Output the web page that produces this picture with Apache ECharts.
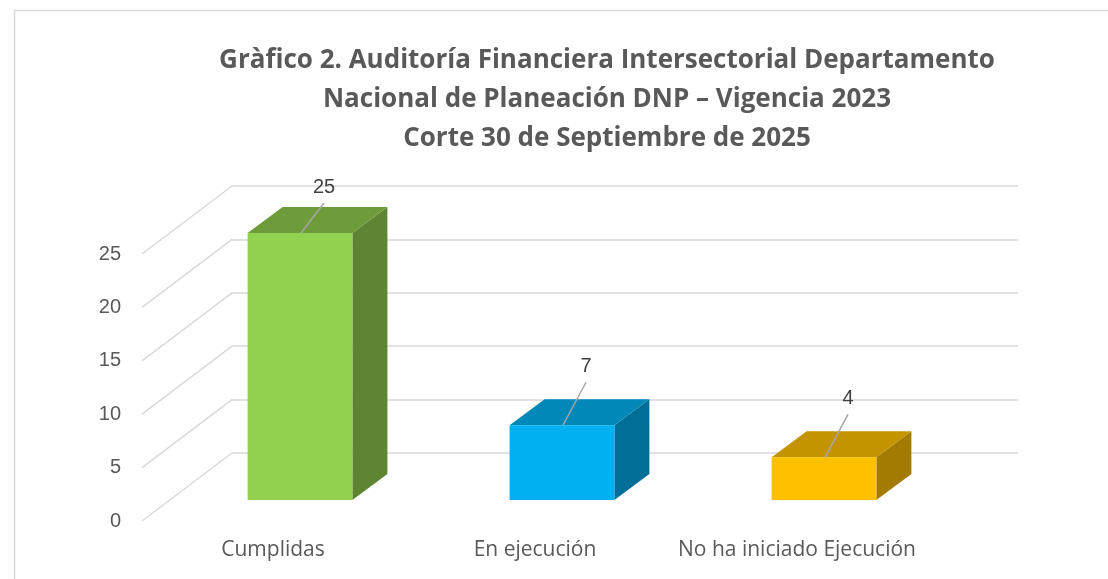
<!DOCTYPE html>
<html>
<head>
<meta charset="utf-8">
<script src="https://cdn.jsdelivr.net/npm/echarts@6/dist/echarts.min.js"></script>
<style>
  html, body { margin: 0; padding: 0; background: #fff; }
  #main { width: 1108px; height: 579px; }
</style>
</head>
<body>
<div id="main"></div>
<script>
// datos del gráfico
var categorias = ['Cumplidas', 'En ejecución', 'No ha iniciado Ejecución'];
var valores = [25, 7, 4];
var ticksY = [0, 5, 10, 15, 20, 25];

// colores: frente, tapa, lado
var coloresFrente = ['#92D050', '#00B0F0', '#FFC000'];
var coloresTapa = ['#6F9C3B', '#0088B9', '#C49300'];
var coloresLado = ['#5E8531', '#006E96', '#A37B00'];

var fuente = '"Open Sans", Roboto, sans-serif';
var DEPTH = [90, -68];     // del plano frontal a la pared del fondo
var FRONT = [-63, 47];     // cara frontal de la barra respecto a la pared del fondo
var BAR_D = [35, -26];     // profundidad de la barra

var chart = echarts.init(document.getElementById('main'));

var option = {
    animation: false,
    title: {
        text: 'Gràfico 2. Auditoría Financiera Intersectorial Departamento\nNacional de Planeación DNP – Vigencia 2023\nCorte 30 de Septiembre de 2025',
        left: 602,
        top: 36,
        textAlign: 'center',
        textStyle: {
            fontFamily: fuente,
            fontSize: 26,
            fontWeight: 'bold',
            color: '#595959',
            lineHeight: 39,
        },
    },
    graphic: [
        {
            type: 'rect',
            shape: { x: 14.5, y: 10.5, width: 1200, height: 700 },
            style: { fill: 'none', stroke: '#D9D9D9', lineWidth: 1.5 },
            silent: true,
        },
    ],
    grid: [
        // pared del fondo
        { left: 232, right: 90, top: 186, bottom: 126 },
        // plano frontal (etiquetas)
        { left: 142, right: 180, top: 254, bottom: 58 },
    ],
    xAxis: [
        {
            gridIndex: 0,
            type: 'category',
            data: categorias,
            axisLine: { show: false },
            axisTick: { show: false },
            axisLabel: { show: false },
        },
        {
            gridIndex: 1,
            type: 'category',
            data: categorias,
            axisLine: { show: false },
            axisTick: { show: false },
            axisLabel: {
                interval: 0,
                margin: 19,
                fontFamily: fuente,
                fontSize: 21,
                color: '#595959',
            },
        },
    ],
    yAxis: [
        {
            gridIndex: 0,
            type: 'value',
            min: 0,
            max: 25,
            interval: 5,
            axisLine: { show: false },
            axisTick: { show: false },
            axisLabel: { show: false },
            splitLine: { lineStyle: { color: '#D9D9D9', width: 1.5 } },
        },
        {
            gridIndex: 1,
            type: 'value',
            min: 0,
            max: 25,
            interval: 5,
            axisLine: { show: false },
            axisTick: { show: false },
            splitLine: { show: false },
            axisLabel: {
                margin: 21,
                fontFamily: '"Liberation Sans", Arial, sans-serif',
                fontSize: 20,
                color: '#595959',
            },
        },
    ],
    series: [
        {
            // líneas diagonales del piso / pared lateral
            type: 'custom',
            xAxisIndex: 0,
            yAxisIndex: 0,
            data: ticksY,
            silent: true,
            renderItem: function (params, api) {
                var p = api.coord([0, api.value(0)]);
                var x = params.coordSys.x;
                return {
                    type: 'line',
                    shape: { x1: x, y1: p[1], x2: x - DEPTH[0], y2: p[1] - DEPTH[1] },
                    style: { stroke: '#D9D9D9', lineWidth: 1.5 },
                };
            },
            encode: { y: 0 },
        },
        {
            // barras 3D
            type: 'custom',
            xAxisIndex: 0,
            yAxisIndex: 0,
            data: valores.map(function (v, i) { return [i, v]; }),
            renderItem: function (params, api) {
                var i = api.value(0);
                var top = api.coord([i, api.value(1)]);
                var base = api.coord([i, 0]);
                var w = api.size([1, 0])[0] * 0.4;
                var x0 = top[0] + FRONT[0] - w / 2;
                var x1 = x0 + w;
                var yt = top[1] + FRONT[1];
                var yb = base[1] + FRONT[1];
                var dx = BAR_D[0], dy = BAR_D[1];
                var cx = (x0 + x1) / 2;
                var lx = cx + 24;
                // la etiqueta no sale del área de trazado
                var ly = Math.max(yt - 43, params.coordSys.y + 17);
                return {
                    type: 'group',
                    children: [
                        {
                            type: 'polygon',
                            shape: { points: [[x1, yt], [x1 + dx, yt + dy], [x1 + dx, yb + dy], [x1, yb]] },
                            style: { fill: coloresLado[i] },
                        },
                        {
                            type: 'polygon',
                            shape: { points: [[x0, yt], [x0 + dx, yt + dy], [x1 + dx, yt + dy], [x1, yt]] },
                            style: { fill: coloresTapa[i] },
                        },
                        {
                            type: 'rect',
                            shape: { x: x0, y: yt, width: w, height: yb - yt },
                            style: { fill: coloresFrente[i] },
                        },
                        {
                            type: 'line',
                            shape: { x1: cx + 1, y1: yt, x2: lx, y2: ly },
                            style: { stroke: '#A6A6A6', lineWidth: 1.5 },
                        },
                        {
                            type: 'text',
                            x: lx,
                            y: ly - 6,
                            style: {
                                text: String(api.value(1)),
                                fontFamily: '"Liberation Sans", Arial, sans-serif',
                                fontSize: 20,
                                fill: '#404040',
                                align: 'center',
                                verticalAlign: 'bottom',
                            },
                        },
                    ],
                };
            },
            encode: { x: 0, y: 1 },
        },
    ],
};

chart.setOption(option);
window.addEventListener('resize', chart.resize);
</script>
</body>
</html>
